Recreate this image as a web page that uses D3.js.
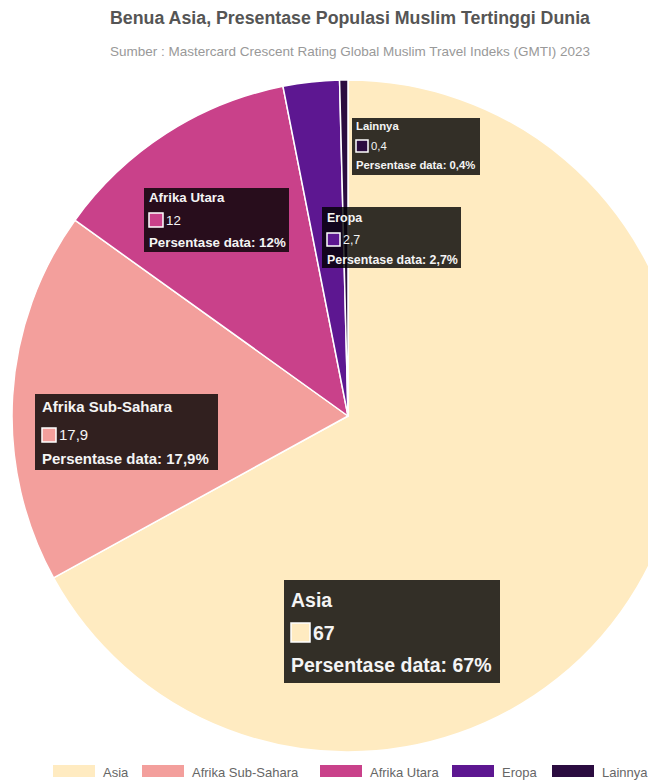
<!DOCTYPE html>
<html>
<head>
<meta charset="utf-8">
<script src="https://cdn.jsdelivr.net/npm/d3@7"></script>
<style>
  html, body { margin: 0; padding: 0; background: #fff; }
  svg { display: block; font-family: "Liberation Sans", Arial, sans-serif; }
</style>
</head>
<body>
<svg id="chart" width="648" height="780"></svg>
<script>
// ---- data ----
const categories = ["Asia", "Afrika Sub-Sahara", "Afrika Utara", "Eropa", "Lainnya"];
const values = [67, 17.9, 12, 2.7, 0.4];
const valueLabels = ["67", "17,9", "12", "2,7", "0,4"];
const colors = ["#ffebc1", "#f39f9c", "#c9418a", "#5d1791", "#2b0c40"];
const title = "Benua Asia, Presentase Populasi Muslim Tertinggi Dunia";
const subtitle = "Sumber : Mastercard Crescent Rating Global Muslim Travel Indeks (GMTI) 2023";

// ---- layout (tooltip boxes: x, y, w, h, font size, padding) ----
const tipLayout = [
  { x: 284, y: 580, w: 216, h: 103, fs: 19.5, pad: 7, sw: 19, l1: 27, l2: 60, l3: 92 },
  { x: 35,  y: 394, w: 183, h: 76,  fs: 15,   pad: 7, sw: 14, l1: 18, l2: 46, l3: 70 },
  { x: 144, y: 188, w: 145, h: 64,  fs: 13.3, pad: 5, sw: 14, l1: 14, l2: 37, l3: 59 },
  { x: 322, y: 207, w: 139, h: 61,  fs: 12.4, pad: 5, sw: 13, l1: 15, l2: 37, l3: 57 },
  { x: 352, y: 118, w: 128, h: 57,  fs: 11.3, pad: 4, sw: 12, l1: 12, l2: 32, l3: 51 }
];

const svg = d3.select("#chart");
const cx = 348, cy = 416, R = 336;

// title
svg.append("text").attr("x", 350).attr("y", 24).attr("text-anchor", "middle")
  .attr("font-size", 17.5).attr("font-weight", "bold").attr("fill", "#555")
  .attr("textLength", 480).attr("lengthAdjust", "spacingAndGlyphs").text(title);
svg.append("text").attr("x", 350).attr("y", 56).attr("text-anchor", "middle")
  .attr("font-size", 13).attr("fill", "#999")
  .attr("textLength", 480).attr("lengthAdjust", "spacingAndGlyphs").text(subtitle);

const data = categories.map((c, i) => ({ name: c, value: values[i], label: valueLabels[i], color: colors[i], i }));

const pie = d3.pie().value(d => d.value).sort(null);
const arc = d3.arc().innerRadius(0).outerRadius(R);

const g = svg.append("g").attr("transform", `translate(${cx},${cy})`);
g.selectAll("path").data(pie(data)).join("path")
  .attr("d", arc)
  .attr("fill", d => d.data.color)
  .attr("stroke", "#fff")
  .attr("stroke-width", 1.5)
  .attr("stroke-linejoin", "round");

// tooltips
const tips = svg.append("g");
data.forEach((d, i) => {
  const L = tipLayout[i];
  const t = tips.append("g").attr("transform", `translate(${L.x},${L.y})`);
  t.append("rect").attr("width", L.w).attr("height", L.h)
    .attr("fill", "rgba(0,0,0,0.8)");
  t.append("text").attr("x", L.pad).attr("y", L.l1)
    .attr("font-size", L.fs).attr("font-weight", "bold").attr("fill", "#f4f4f4").text(d.name);
  t.append("rect").attr("x", L.pad).attr("y", L.l2 - L.sw + 2)
    .attr("width", L.sw).attr("height", L.sw)
    .attr("fill", d.color).attr("stroke", "#fff").attr("stroke-width", 1.5);
  t.append("text").attr("x", L.pad + L.sw + 3).attr("y", L.l2)
    .attr("font-size", L.fs).attr("font-weight", i === 0 ? "bold" : "normal").attr("fill", "#f4f4f4").text(d.label);
  t.append("text").attr("x", L.pad).attr("y", L.l3)
    .attr("font-size", L.fs).attr("font-weight", "bold").attr("fill", "#f4f4f4")
    .text("Persentase data: " + d.label + "%");
});

// legend
const legendX = [53, 142, 320, 452, 552];
const leg = svg.append("g");
data.forEach((d, i) => {
  const lg = leg.append("g").attr("transform", `translate(${legendX[i]},765)`);
  lg.append("rect").attr("width", 42).attr("height", 12).attr("fill", d.color);
  lg.append("text").attr("x", 50).attr("y", 11.5).attr("font-size", 13).attr("fill", "#666").text(d.name);
});
</script>
</body>
</html>
